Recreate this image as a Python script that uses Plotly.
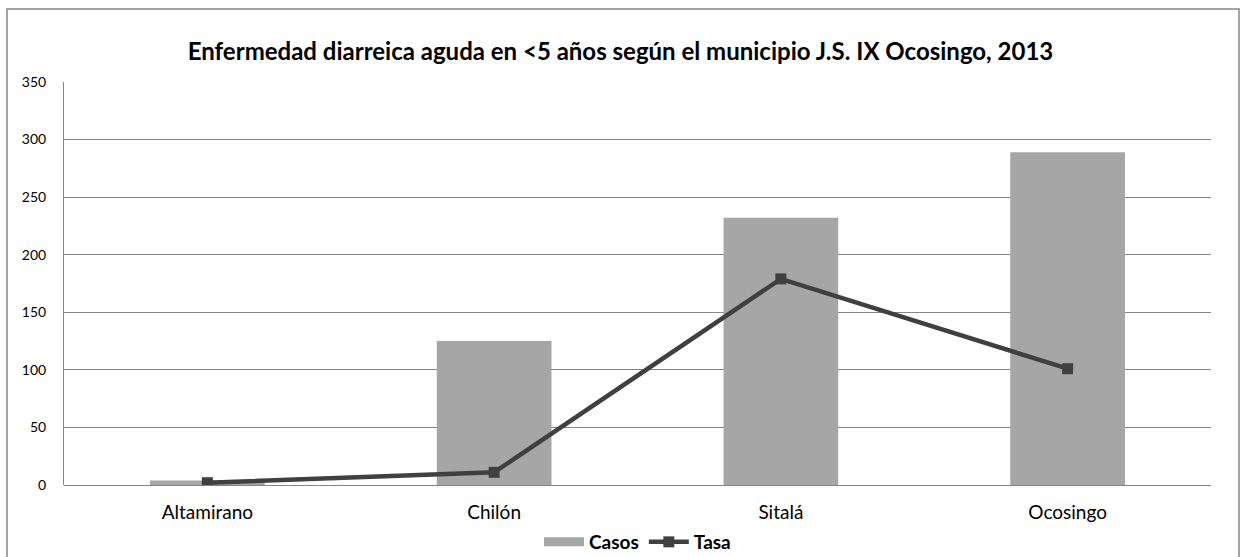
import plotly.graph_objects as go

municipios = ["Altamirano", "Chilón", "Sitalá", "Ocosingo"]
casos = [4, 125, 232, 289]
tasa = [2, 11, 179, 101]
y_ticks = [0, 50, 100, 150, 200, 250, 300, 350]

FONT = "Lato, 'Open Sans', sans-serif"
BAR_COLOR = "#A6A6A6"
LINE_COLOR = "#404040"

fig = go.Figure()
fig.add_trace(go.Bar(
    x=municipios, y=casos, name="<b>Casos</b>", showlegend=False,
    marker=dict(color=BAR_COLOR, line=dict(width=0)),
))
# legend entry for bars drawn as a wide swatch, like the original
fig.add_trace(go.Scatter(
    x=[None], y=[None], mode="lines", name="<b>Casos</b>",
    line=dict(color=BAR_COLOR, width=9),
))
fig.add_trace(go.Scatter(
    x=municipios, y=tasa, name="<b>Tasa</b>", mode="lines+markers",
    line=dict(color=LINE_COLOR, width=4.5),
    marker=dict(symbol="square", size=11, color=LINE_COLOR),
))

fig.update_layout(
    width=1241, height=557,
    margin=dict(l=64, r=30, t=82, b=72, autoexpand=False),
    paper_bgcolor="white", plot_bgcolor="white",
    font=dict(family=FONT, size=14, color="#000000"),
    title=dict(
        text="<b>Enfermedad diarreica aguda en <5 años según el municipio J.S. IX Ocosingo, 2013</b>",
        x=0.5, xanchor="center", y=1 - 52 / 557, yanchor="middle",
        font=dict(family=FONT, size=24, color="#000000"),
    ),
    bargap=0.6,
    showlegend=True,
    legend=dict(
        orientation="h", x=0.5, xanchor="center",
        yref="container", y=(557 - 542) / 557, yanchor="middle",
        font=dict(family=FONT, size=19, color="#000000"),
        bgcolor="rgba(0,0,0,0)", itemwidth=40,
    ),
    xaxis=dict(
        showgrid=False, showline=False, ticks="", ticklabelstandoff=14,
        tickfont=dict(family=FONT, size=19, color="#000000"),
    ),
    yaxis=dict(
        range=[0, 350], tickvals=y_ticks, ticktext=[str(v) for v in y_ticks],
        showgrid=True, gridcolor="#868686", gridwidth=1,
        showline=True, linecolor="#868686", linewidth=1,
        zeroline=True, zerolinecolor="#868686", zerolinewidth=1,
        ticks="", ticklabelstandoff=14,
        tickfont=dict(family=FONT, size=14, color="#000000"),
    ),
    shapes=[
        dict(type="rect", xref="paper", yref="paper",
             x0=(7 - 64) / 1147, x1=(1239 - 64) / 1147,
             y0=(485 - 600) / 403, y1=1 + (82 - 9) / 403,
             line=dict(color="#878787", width=1.5), fillcolor="rgba(0,0,0,0)",
             layer="below"),
    ],
)

fig.write_html("out.html")
